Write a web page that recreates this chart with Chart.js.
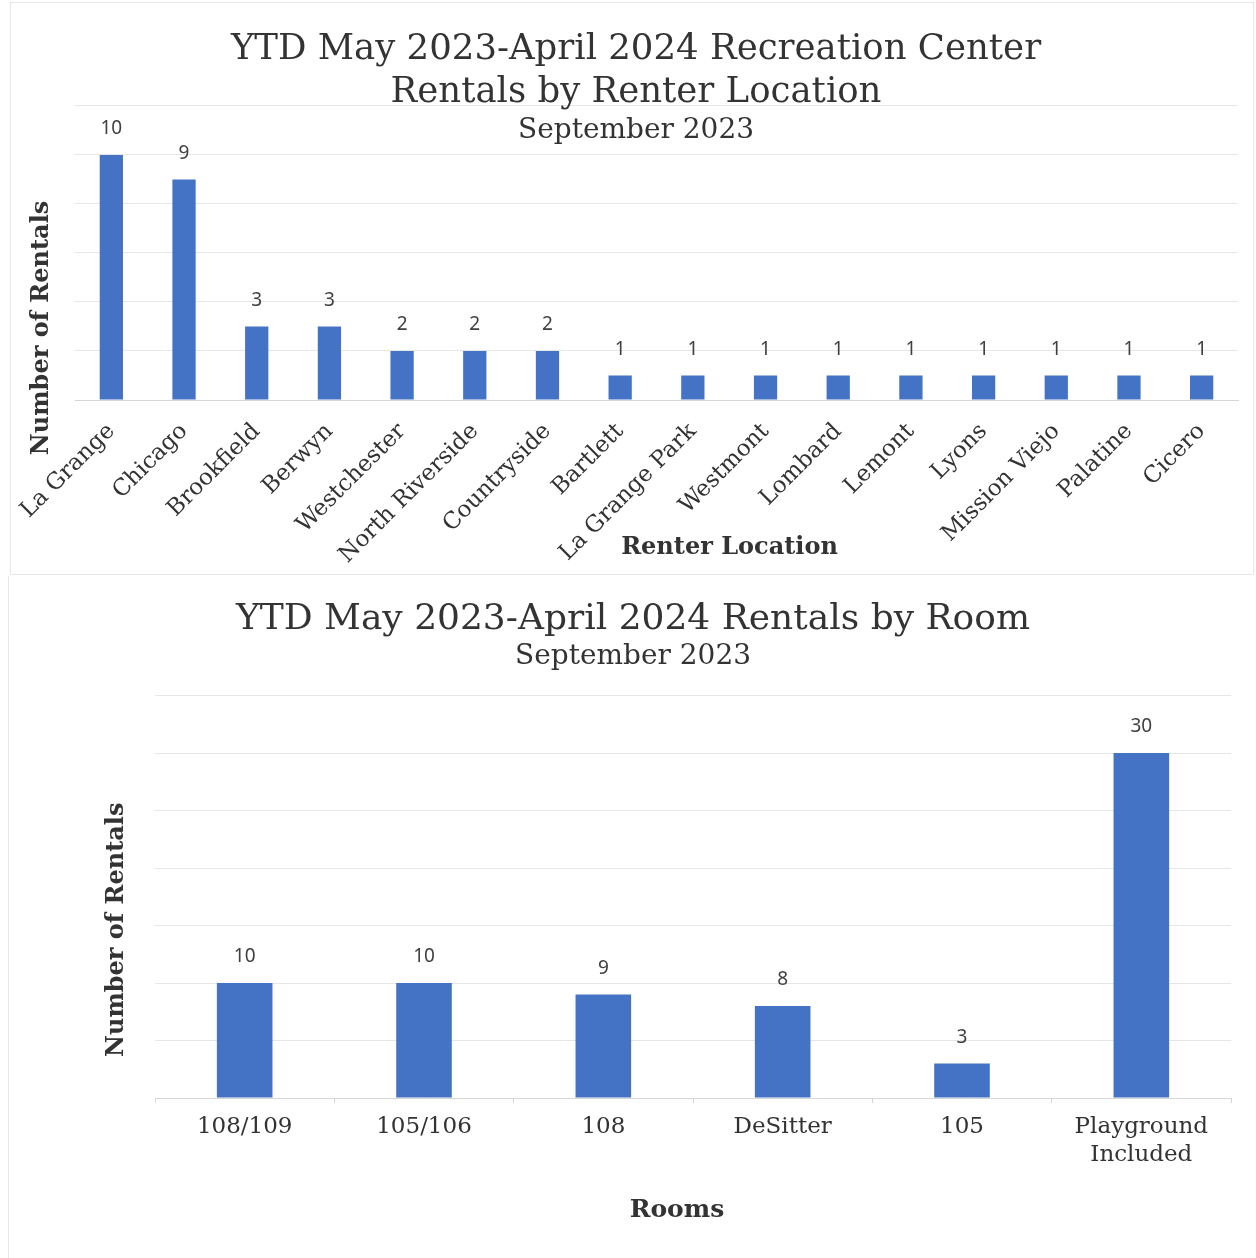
<!DOCTYPE html>
<html>
<head>
<meta charset="utf-8">
<script src="https://cdn.jsdelivr.net/npm/chart.js@4/dist/chart.umd.min.js"></script>
<style>
  body { margin: 0; background: #fff; }
  #locBox { position: absolute; left: 10px; top: 2px; width: 1242px; height: 571px; border: 1px solid #e6e6e6; }
  #roomBox { position: absolute; left: 8px; top: 576px; width: 1247px; height: 682px; border-left: 1px solid #e6e6e6; }
</style>
</head>
<body>
<div id="locBox"><canvas id="locationChart"></canvas></div>
<div id="roomBox"><canvas id="roomChart"></canvas></div>
<script>
const locations = ['La Grange', 'Chicago', 'Brookfield', 'Berwyn', 'Westchester', 'North Riverside',
    'Countryside', 'Bartlett', 'La Grange Park', 'Westmont', 'Lombard', 'Lemont', 'Lyons',
    'Mission Viejo', 'Palatine', 'Cicero'];
const locationRentals = [10, 9, 3, 3, 2, 2, 2, 1, 1, 1, 1, 1, 1, 1, 1, 1];

const rooms = ['108/109', '105/106', '108', 'DeSitter', '105', ['Playground', 'Included']];
const roomRentals = [10, 10, 9, 8, 3, 30];

const barBlue = '#4472c4';
const textGray = '#333333';
const serif = 'DejaVu Serif';

// value above each bar
const barValues = {
    id: 'barValues',
    afterDatasetsDraw(chart) {
        const ctx = chart.ctx;
        const meta = chart.getDatasetMeta(0);
        ctx.save();
        ctx.font = '19px "Noto Sans"';
        ctx.fillStyle = '#404040';
        ctx.textAlign = 'center';
        ctx.textBaseline = 'middle';
        meta.data.forEach((bar, i) => {
            ctx.fillText(chart.data.datasets[0].data[i], bar.x, bar.y - 26);
        });
        ctx.restore();
    }
};

// axis names, placed relative to the plot area
const axisNames = {
    id: 'axisNames',
    afterDraw(chart, args, opts) {
        const ctx = chart.ctx;
        const a = chart.chartArea;
        ctx.save();
        ctx.fillStyle = textGray;
        ctx.textAlign = 'center';
        ctx.textBaseline = 'middle';
        ctx.font = 'bold ' + opts.xSize + 'px "' + serif + '"';
        ctx.fillText(opts.x, (a.left + a.right) / 2 + opts.xShift, a.bottom + opts.xGap);
        ctx.font = 'bold 24px "' + serif + '"';
        ctx.translate(a.left - opts.yGap, (a.top + a.bottom) / 2 + opts.yShift);
        ctx.rotate(-Math.PI / 2);
        ctx.fillText(opts.y, 0, 0);
        ctx.restore();
    }
};

new Chart(document.getElementById('locationChart'), {
    type: 'bar',
    data: {
        labels: locations,
        datasets: [{
            data: locationRentals,
            backgroundColor: barBlue,
            categoryPercentage: 1,
            barPercentage: 0.32
        }]
    },
    options: {
        responsive: true,
        maintainAspectRatio: false,
        animation: false,
        layout: { padding: { left: 23, right: 15, top: 0, bottom: 0 } },
        plugins: {
            legend: { display: false },
            tooltip: { enabled: false },
            title: {
                display: true,
                text: ['YTD May 2023-April 2024 Recreation Center', 'Rentals by Renter Location'],
                color: textGray,
                font: { family: serif, size: 35.5, weight: 'normal', lineHeight: 1.21 },
                padding: { top: 25.5, bottom: -9 }
            },
            subtitle: {
                display: true,
                text: 'September 2023',
                color: textGray,
                font: { family: serif, size: 28, lineHeight: 1.2 },
                padding: { top: 9, bottom: -42.1 }
            },
            axisNames: { x: 'Renter Location', xSize: 24, y: 'Number of Rentals', xShift: 73, xGap: 148, yGap: 33, yShift: 75 }
        },
        scales: {
            x: {
                grid: { display: false },
                border: { color: '#d6d6d6' },
                ticks: {
                    color: textGray,
                    font: { family: serif, size: 23 },
                    minRotation: 45,
                    maxRotation: 45,
                    autoSkip: false,
                    padding: 10
                },
                afterFit(scale) { scale.height = 174; }
            },
            y: {
                min: 0,
                max: 12,
                ticks: { display: false, stepSize: 2 },
                grid: { color: '#e6e6e6', drawTicks: false },
                border: { display: false },
                afterFit(scale) { scale.width = 41; }
            }
        }
    },
    plugins: [barValues, axisNames]
});

new Chart(document.getElementById('roomChart'), {
    type: 'bar',
    data: {
        labels: rooms,
        datasets: [{
            data: roomRentals,
            backgroundColor: barBlue,
            categoryPercentage: 1,
            barPercentage: 0.31
        }]
    },
    options: {
        responsive: true,
        maintainAspectRatio: false,
        animation: false,
        layout: { padding: { left: 26, right: 25, top: 0, bottom: 0 } },
        plugins: {
            legend: { display: false },
            tooltip: { enabled: false },
            title: {
                display: true,
                text: 'YTD May 2023-April 2024 Rentals by Room',
                color: textGray,
                font: { family: serif, size: 36, weight: 'normal', lineHeight: 1.2 },
                padding: { top: 22.5, bottom: 1 }
            },
            subtitle: {
                display: true,
                text: 'September 2023',
                color: textGray,
                font: { family: serif, size: 28, lineHeight: 1.2 },
                padding: { top: -2.5, bottom: 21.7 }
            },
            axisNames: { x: 'Rooms', xSize: 25, y: 'Number of Rentals', xShift: -16, xGap: 112, yGap: 38, yShift: 33 }
        },
        scales: {
            x: {
                grid: { drawOnChartArea: false, drawTicks: true, tickLength: 5, color: '#d6d6d6' },
                border: { color: '#d6d6d6' },
                ticks: {
                    color: textGray,
                    font: { family: serif, size: 23, lineHeight: 1.22 },
                    maxRotation: 0,
                    autoSkip: false,
                    padding: 10
                },
                afterFit(scale) { scale.height = 160; }
            },
            y: {
                min: 0,
                max: 35,
                ticks: { display: false, stepSize: 5 },
                grid: { color: '#e6e6e6', drawTicks: false },
                border: { display: false },
                afterFit(scale) { scale.width = 120; }
            }
        }
    },
    plugins: [barValues, axisNames]
});
</script>
</body>
</html>
